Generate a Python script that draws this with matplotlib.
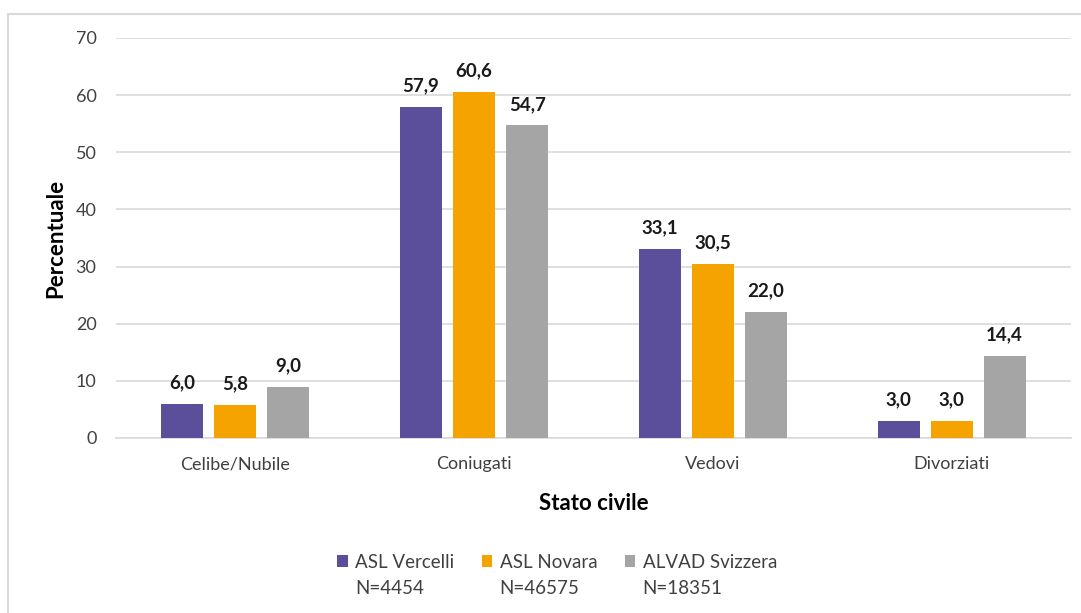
import numpy as np
import matplotlib.pyplot as plt
from matplotlib.patches import Rectangle

plt.rcParams['font.family'] = ['Lato', 'DejaVu Sans']

categorie = ["Celibe/Nubile", "Coniugati", "Vedovi", "Divorziati"]
serie = ["ASL Vercelli", "ASL Novara", "ALVAD Svizzera"]
numerosita = ["N=4454", "N=46575", "N=18351"]
vercelli = [6.0, 57.9, 33.1, 3.0]
novara = [5.8, 60.6, 30.5, 3.0]
svizzera = [9.0, 54.7, 22.0, 14.4]
colori = ["#5b4e9b", "#f5a300", "#a5a5a5"]

W, H = 1081, 613
fig = plt.figure(figsize=(W / 100, H / 100), dpi=100)
ax = fig.add_axes([116 / W, 1 - 438 / H, 955 / W, 400 / H])

# cornice esterna del grafico
fig.patches.append(Rectangle((8 / W, -0.05), 1.1, 1 - 14 / H + 0.05,
                             transform=fig.transFigure, fill=False,
                             edgecolor="#d9d9d9", linewidth=1.5))

x = np.arange(len(categorie))
larghezza = 0.176
passo = 0.222
for i, (valori, nome) in enumerate(zip([vercelli, novara, svizzera], serie)):
    pos = x + (i - 1) * passo
    barre = ax.bar(pos, valori, larghezza, color=colori[i], label=nome, zorder=3)
    for b, v in zip(barre, valori):
        ax.text(b.get_x() + b.get_width() / 2, v + 2.2, f"{v:.1f}".replace(".", ","),
                ha="center", va="bottom", fontsize=13.5, fontweight="bold", color="#1a1a1a")

ax.set_xlim(-0.5, 3.5)
ax.set_ylim(0, 70)
ax.set_yticks(range(0, 71, 10))
ax.yaxis.grid(True, color="#d9d9d9", linewidth=1.2, zorder=0)
ax.set_axisbelow(True)
for s in ["top", "right", "left"]:
    ax.spines[s].set_visible(False)
ax.spines["bottom"].set_color("#d9d9d9")
ax.spines["bottom"].set_linewidth(1.2)
ax.tick_params(axis="both", length=0, labelsize=13, colors="#404040")
ax.tick_params(axis="y", pad=14)
ax.tick_params(axis="x", pad=13)
ax.set_xticks(x)
ax.set_xticklabels(categorie)

ax.set_ylabel("Percentuale", fontsize=16, fontweight="bold", labelpad=7)
ax.set_xlabel("Stato civile", fontsize=16, fontweight="bold", labelpad=15)

leg = fig.legend(loc="center left", bbox_to_anchor=(337 / W, 1 - 562 / H), ncol=3,
                 frameon=False, fontsize=13.5, handlelength=0.57, handleheight=0.57,
                 columnspacing=1.45, handletextpad=0.4, borderpad=0, borderaxespad=0,
                 labelcolor="#404040")

# seconda riga della legenda con la numerosità del campione
fig.canvas.draw()
renderer = fig.canvas.get_renderer()
for t, n in zip(leg.get_texts(), numerosita):
    bb = t.get_window_extent(renderer)
    fig.text(bb.x0 / W, (bb.y0 + bb.y1) / 2 / H - 26 / H, n, ha="left", va="center",
             fontsize=13.5, color="#404040")

fig.savefig("out.png", dpi=100)
